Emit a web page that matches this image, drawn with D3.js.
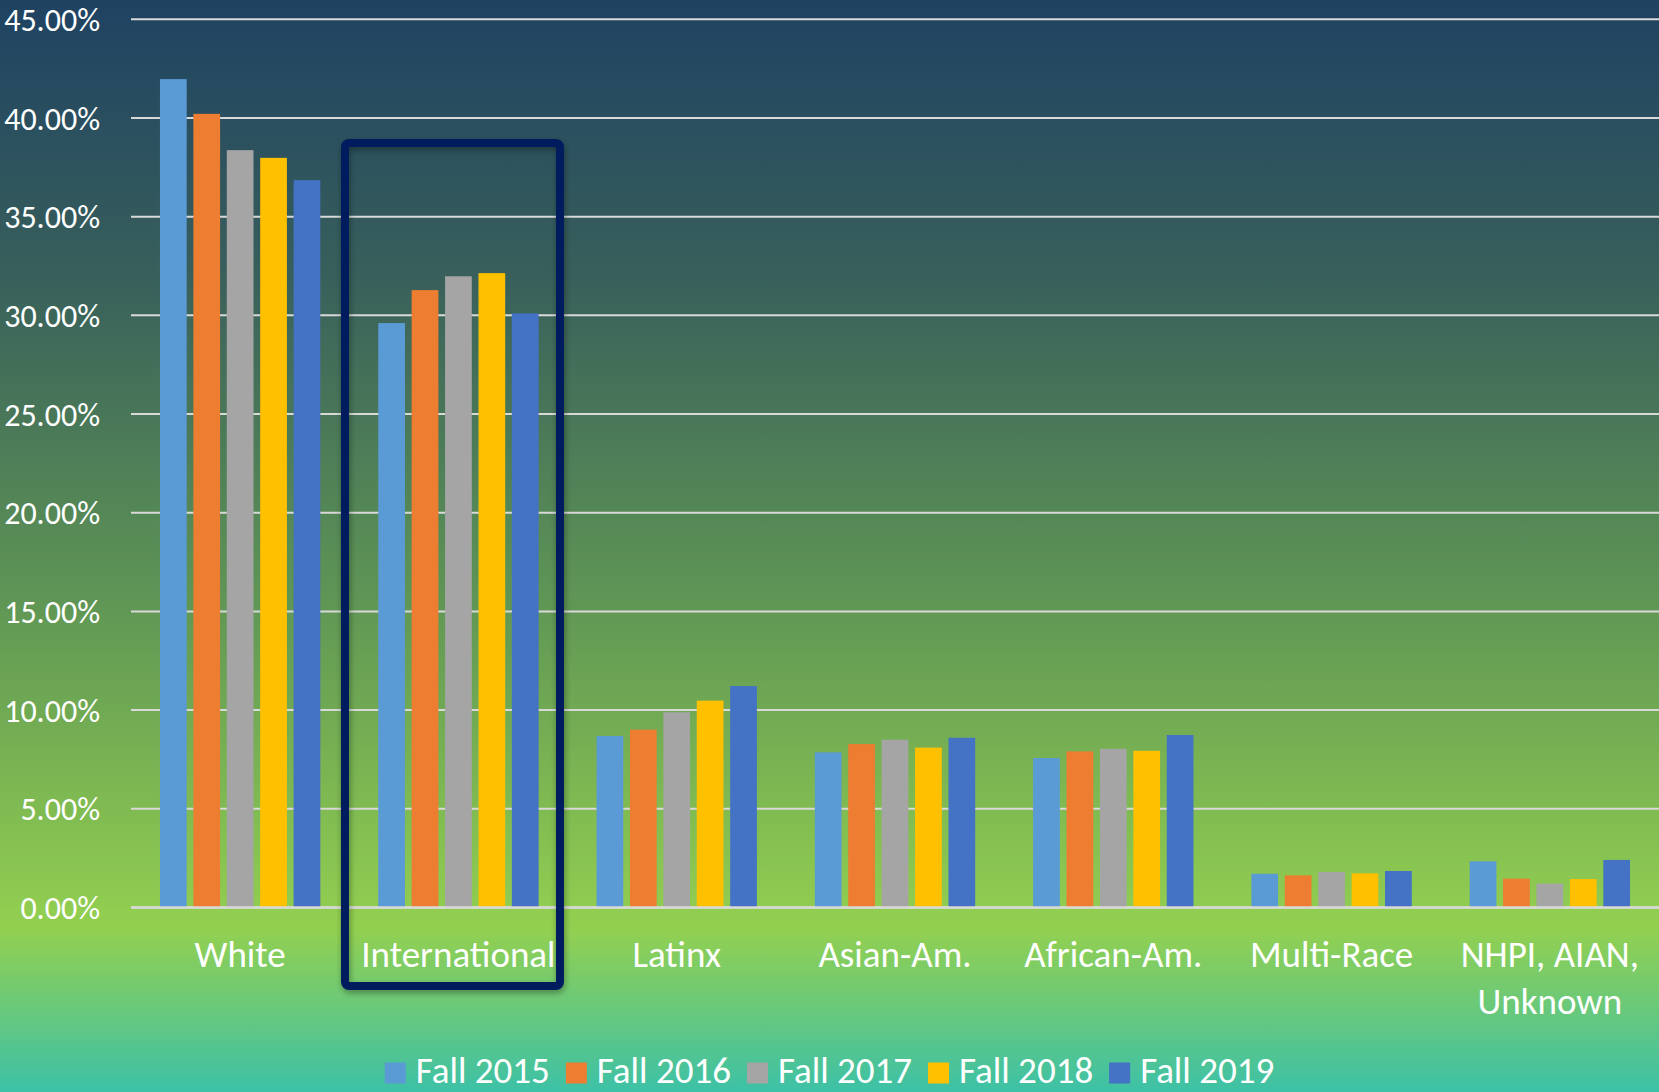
<!DOCTYPE html>
<html lang="en">
<head>
<meta charset="utf-8">
<script src="https://d3js.org/d3.v7.min.js"></script>
<style>
    html, body { margin: 0; padding: 0; overflow: hidden; }
    body { width: 1659px; height: 1092px; }
    text { font-family: Carlito, Lato, "Open Sans", sans-serif; fill: #ffffff; }
</style>
</head>
<body>
<div id="chart"></div>
<script>
    // data (share of enrolment, %)
    const categories = ["White", "International", "Latinx", "Asian-Am.", "African-Am.", "Multi-Race", "NHPI, AIAN, Unknown"]
    const years = ["Fall 2015", "Fall 2016", "Fall 2017", "Fall 2018", "Fall 2019"]
    const fall2015 = [41.97, 29.61, 8.69, 7.86, 7.57, 1.71, 2.34]
    const fall2016 = [40.21, 31.28, 9.01, 8.28, 7.91, 1.63, 1.46]
    const fall2017 = [38.37, 31.98, 9.89, 8.50, 8.04, 1.80, 1.21]
    const fall2018 = [37.98, 32.14, 10.48, 8.10, 7.94, 1.73, 1.44]
    const fall2019 = [36.85, 30.10, 11.22, 8.60, 8.74, 1.85, 2.41]
    const yTicks = [0, 5, 10, 15, 20, 25, 30, 35, 40, 45]
    const colors = ["#5B9BD5", "#ED7D31", "#A5A5A5", "#FFC000", "#4472C4"]
    const highlighted = "International"

    const series = [fall2015, fall2016, fall2017, fall2018, fall2019]

    const width = 1659
    const height = 1092
    const plotLeft = 131
    const plotTop = 19.3
    const plotBottom = 907.5

    const svg = d3.select("#chart").append("svg")
        .attr("width", width)
        .attr("height", height)

    // background gradient
    const defs = svg.append("defs")
    const grad = defs.append("linearGradient")
        .attr("id", "bg")
        .attr("x1", 0).attr("y1", 0).attr("x2", 0).attr("y2", 1)
    grad.append("stop").attr("offset", "0%").attr("stop-color", "#1f4262")
    grad.append("stop").attr("offset", "25%").attr("stop-color", "#385f5b")
    grad.append("stop").attr("offset", "55%").attr("stop-color", "#5f9655")
    grad.append("stop").attr("offset", "85%").attr("stop-color", "#93d050")
    grad.append("stop").attr("offset", "100%").attr("stop-color", "#3dc1a7")

    const shadow = defs.append("filter").attr("id", "shadow")
        .attr("x", "-10%").attr("y", "-10%").attr("width", "120%").attr("height", "120%")
    shadow.append("feDropShadow")
        .attr("dx", 1).attr("dy", 3).attr("stdDeviation", 3)
        .attr("flood-color", "#000").attr("flood-opacity", 0.35)

    svg.append("rect")
        .attr("width", width)
        .attr("height", height)
        .attr("fill", "url(#bg)")

    const x0 = d3.scaleBand().domain(categories).range([plotLeft, width])
    const x1 = d3.scaleBand().domain(years).range([0, x0.bandwidth()])
        .paddingInner(0.2).paddingOuter(0.867)
    const y = d3.scaleLinear().domain([0, 45]).range([plotBottom, plotTop])

    // gridlines
    svg.append("g")
        .selectAll("line")
        .data(yTicks)
        .join("line")
        .attr("x1", plotLeft)
        .attr("x2", width)
        .attr("y1", d => y(d))
        .attr("y2", d => y(d))
        .attr("stroke", "#d9d9d9")
        .attr("stroke-width", 2)

    // y tick labels
    svg.append("g")
        .selectAll("text")
        .data(yTicks)
        .join("text")
        .attr("x", 100)
        .attr("y", d => y(d))
        .attr("dy", "0.36em")
        .attr("text-anchor", "end")
        .style("font-size", "32px")
        .text(d => d3.format(".2f")(d) + "%")

    // bars
    const groups = svg.append("g")
        .selectAll("g")
        .data(categories)
        .join("g")
        .attr("transform", d => "translate(" + x0(d) + ",0)")

    groups.selectAll("rect")
        .data((c, ci) => years.map((yr, si) => ({ year: yr, value: series[si][ci] })))
        .join("rect")
        .attr("x", d => x1(d.year))
        .attr("y", d => y(d.value))
        .attr("width", x1.bandwidth())
        .attr("height", d => plotBottom - y(d.value))
        .attr("fill", (d, i) => colors[i])

    // redraw the zero line over bar bottoms
    svg.append("line")
        .attr("x1", plotLeft).attr("x2", width)
        .attr("y1", y(0)).attr("y2", y(0))
        .attr("stroke", "#d9d9d9")
        .attr("stroke-width", 2.5)

    // category labels (wrap the long one)
    const catLabels = {
        "NHPI, AIAN, Unknown": ["NHPI, AIAN,", "Unknown"]
    }
    svg.append("g")
        .selectAll("text")
        .data(categories)
        .join("text")
        .attr("x", d => x0(d) + x0.bandwidth() / 2)
        .attr("y", 967)
        .attr("text-anchor", "middle")
        .style("font-size", "37px")
        .each(function (d) {
            const lines = catLabels[d] || [d]
            d3.select(this).selectAll("tspan")
                .data(lines)
                .join("tspan")
                .attr("x", x0(d) + x0.bandwidth() / 2)
                .attr("dy", (l, i) => i === 0 ? 0 : 46.6)
                .text(l => l)
        })

    // highlight box around International (sits a little left of the band)
    const hx = x0(highlighted)
    svg.append("rect")
        .attr("x", hx - 4.3)
        .attr("y", 143)
        .attr("width", 215)
        .attr("height", 843)
        .attr("rx", 4)
        .attr("fill", "none")
        .attr("stroke", "#001e5e")
        .attr("stroke-width", 8)
        .attr("filter", "url(#shadow)")

    // legend
    const legend = svg.append("g")
    const items = legend.selectAll("g")
        .data(years)
        .join("g")
    items.append("rect")
        .attr("width", 21)
        .attr("height", 21)
        .attr("y", 1062.5)
        .attr("fill", (d, i) => colors[i])
    items.append("text")
        .attr("x", 31)
        .attr("y", 1083)
        .style("font-size", "37px")
        .text(d => d)

    let pos = 0
    const offsets = []
    items.each(function () {
        offsets.push(pos)
        const w = d3.select(this).select("text").node().getComputedTextLength()
        pos += 31 + w + 16
    })
    const total = pos - 16
    const start = width / 2 - total / 2
    items.attr("transform", (d, i) => "translate(" + (start + offsets[i]) + ",0)")
</script>
</body>
</html>
